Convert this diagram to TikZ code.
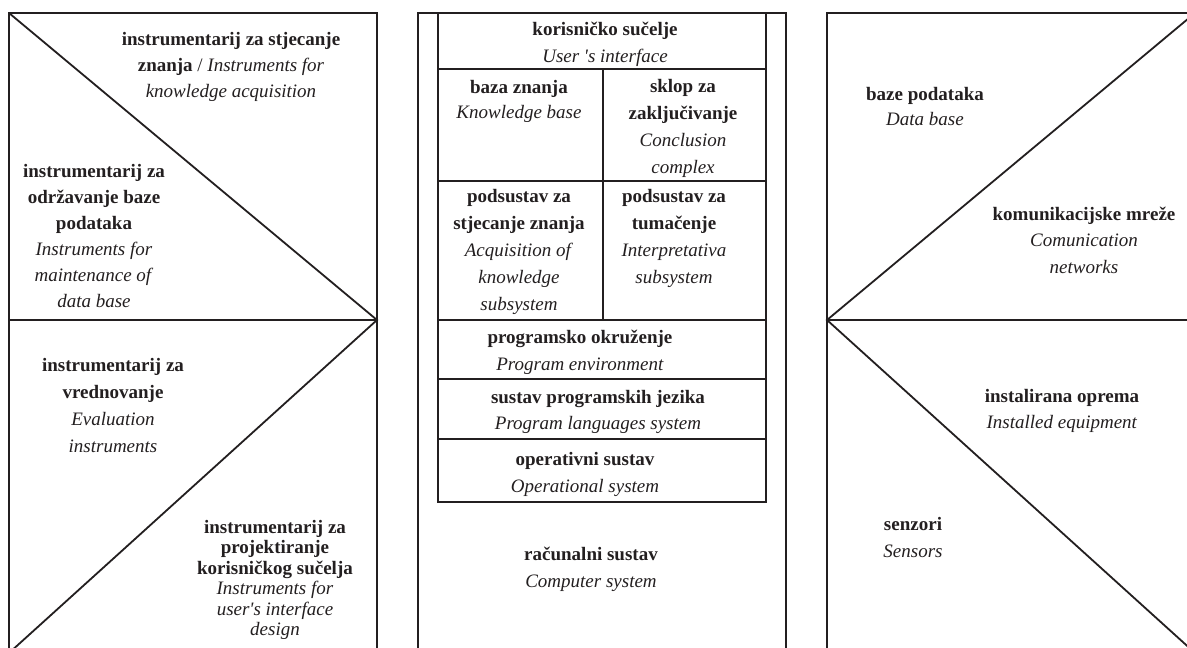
\documentclass[tikz,border=0pt]{standalone}
\usepackage{fontspec}
\setmainfont{Liberation Serif}
% same face without the TeX mapping, for a straight apostrophe
\newfontfamily\plainapos{Liberation Serif}
\newcommand\apos{{\plainapos '}}
\definecolor{ink}{RGB}{35,31,32}
\newcommand\tstrut{\rule{0pt}{15pt}}
\begin{document}
\begin{tikzpicture}[x=1pt,y=-1pt,
  frame/.style={draw=ink,line width=1.8pt,line join=miter},
  blk/.style={anchor=north,inner sep=0pt,align=center,text=ink,
    font=\fontsize{19}{#1}\selectfont},
  blk/.default=27]
\useasboundingbox (0,0) rectangle (1187,648);
\clip (0,0) rectangle (1187,648);
\fill[white] (0,0) rectangle (1187,648);

% left panel: two triangles split by diagonals
\draw[frame] (9,653) -- (9,13) -- (377,13) -- (377,653);
\draw[frame] (9,320) -- (377,320);
\draw[frame] (9,13) -- (377,320) -- (9,653);

% middle panel: stacked layers of the expert system
\draw[frame] (418,653) -- (418,13) -- (786,13) -- (786,653);
\draw[frame] (438,13) rectangle (766,502);
\foreach \yy in {69,181,320,379,439} \draw[frame] (438,\yy) -- (766,\yy);
\draw[frame] (603,69) -- (603,320);

% right panel
\draw[frame] (827,653) -- (827,13) -- (1195,13);
\draw[frame] (827,320) -- (1195,320);
\draw[frame] (1195,13) -- (827,320) -- (1195,653);

% left panel labels
\node[blk=26] (acq) at (231,30) {\tstrut\textbf{instrumentarij za stjecanje}\\
  \textbf{znanja} / \textit{Instruments for}\\ \textit{knowledge acquisition}};
\node[blk=26] (maint) at (94,162) {\tstrut\textbf{instrumentarij za}\\
  \textbf{održavanje baze}\\ \textbf{podataka}\\ \textit{Instruments for}\\
  \textit{maintenance of}\\ \textit{data base}};
\node[blk=27] (eval) at (113,356) {\tstrut\textbf{instrumentarij za}\\
  \textbf{vrednovanje}\\ \textit{Evaluation}\\ \textit{instruments}};
\node[blk=20.5] (uidesign) at (275,518) {\tstrut\textbf{instrumentarij za}\\
  \textbf{projektiranje}\\ \textbf{korisničkog sučelja}\\ \textit{Instruments for}\\
  \textit{user\apos s interface}\\ \textit{design}};

% middle panel labels
\node[blk=27] (ui) at (605,20) {\tstrut\textbf{korisničko sučelje}\\ \textit{User \apos s interface}};
\node[blk=25] (kb) at (519,78) {\tstrut\textbf{baza znanja}\\ \textit{Knowledge base}};
\node[blk=27] (concl) at (683,77) {\tstrut\textbf{sklop za}\\ \textbf{zaključivanje}\\
  \textit{Conclusion}\\ \textit{complex}};
\node[blk=27] (kacq) at (519,187) {\tstrut\textbf{podsustav za}\\ \textbf{stjecanje znanja}\\
  \textit{Acquisition of}\\ \textit{knowledge}\\ \textit{subsystem}};
\node[blk=27] (interp) at (674,187) {\tstrut\textbf{podsustav za}\\ \textbf{tumačenje}\\
  \textit{Interpretativa}\\ \textit{subsystem}};
\node[blk=27] (progenv) at (580,328) {\tstrut\textbf{programsko okruženje}\\ \textit{Program environment}};
\node[blk=26.5] (lang) at (598,388) {\tstrut\textbf{sustav programskih jezika}\\ \textit{Program languages system}};
\node[blk=27] (os) at (585,450) {\tstrut\textbf{operativni sustav}\\ \textit{Operational system}};
\node[blk=27] (comp) at (591,545) {\tstrut\textbf{računalni sustav}\\ \textit{Computer system}};

% right panel labels
\node[blk=25] (db) at (925,85) {\tstrut\textbf{baze podataka}\\ \textit{Data base}};
\node[blk=26.5] (net) at (1084,205) {\tstrut\textbf{komunikacijske mreže}\\
  \textit{Comunication}\\ \textit{networks}};
\node[blk=26] (equip) at (1062,387) {\tstrut\textbf{instalirana oprema}\\ \textit{Installed equipment}};
\node[blk=27] (sens) at (913,515) {\tstrut\textbf{senzori}\\ \textit{Sensors}};
\end{tikzpicture}
\end{document}
